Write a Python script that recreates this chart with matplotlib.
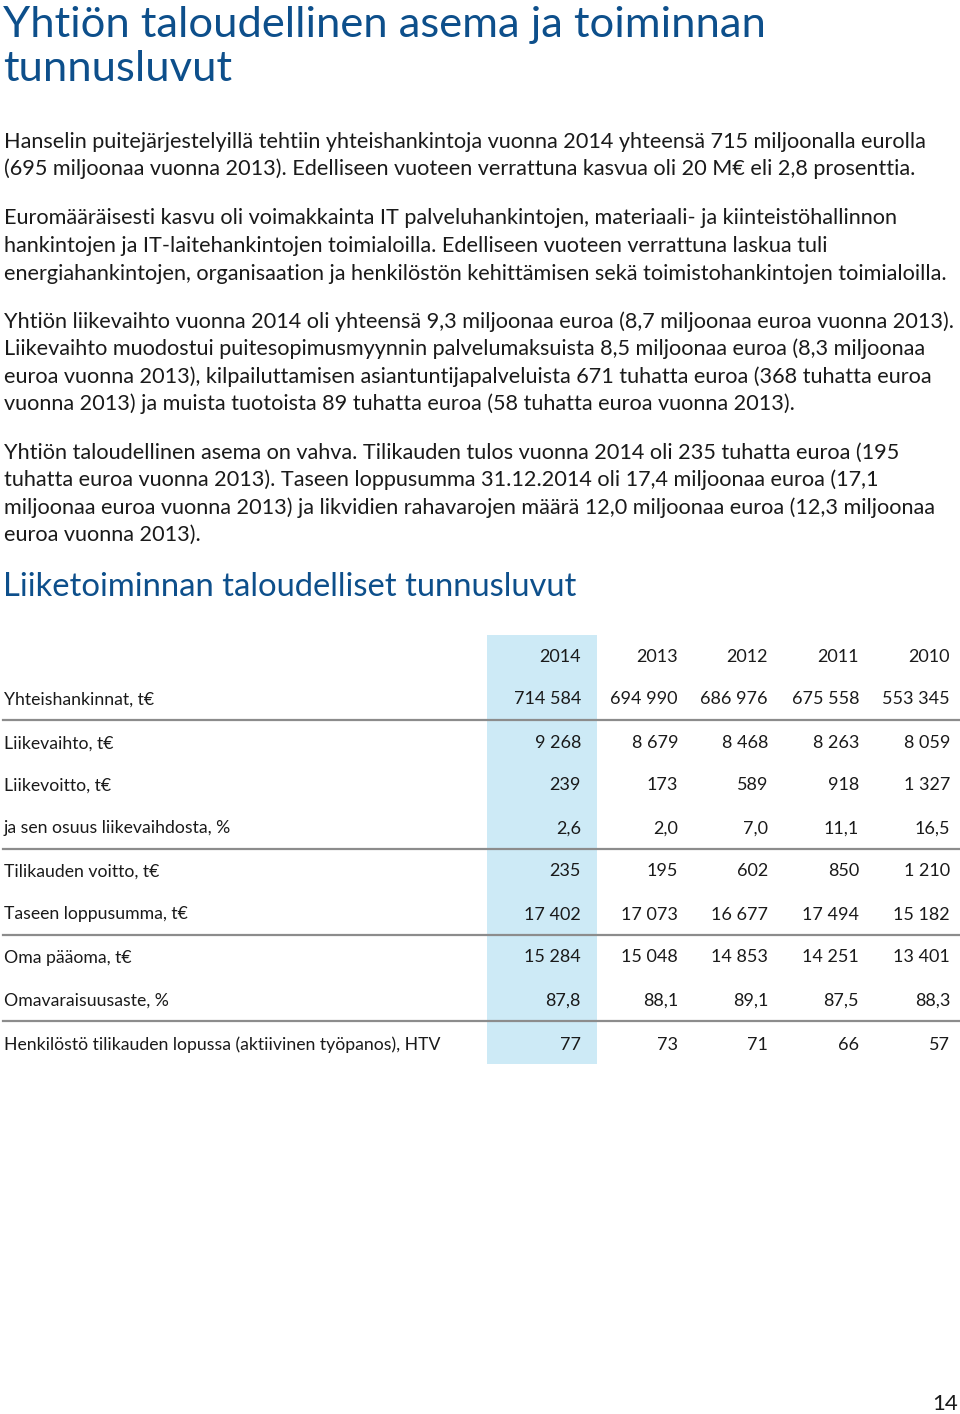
import matplotlib
matplotlib.use('Agg')
import matplotlib.pyplot as plt
from matplotlib.patches import Rectangle

plt.rcParams['font.family'] = ['Lato', 'DejaVu Sans']

TITLE_BLUE = '#0d4f8b'
TEXT = '#1a1a1a'
HILITE = '#cdeaf6'
RULE = '#8c8c8c'

title_lines = ["Yhtiön taloudellinen asema ja toiminnan", "tunnusluvut"]

paragraphs = [
    ["Hanselin puitejärjestelyillä tehtiin yhteishankintoja vuonna 2014 yhteensä 715 miljoonalla eurolla",
     "(695 miljoonaa vuonna 2013). Edelliseen vuoteen verrattuna kasvua oli 20 M€ eli 2,8 prosenttia."],
    ["Euromääräisesti kasvu oli voimakkainta IT palveluhankintojen, materiaali- ja kiinteistöhallinnon",
     "hankintojen ja IT-laitehankintojen toimialoilla. Edelliseen vuoteen verrattuna laskua tuli",
     "energiahankintojen, organisaation ja henkilöstön kehittämisen sekä toimistohankintojen toimialoilla."],
    ["Yhtiön liikevaihto vuonna 2014 oli yhteensä 9,3 miljoonaa euroa (8,7 miljoonaa euroa vuonna 2013).",
     "Liikevaihto muodostui puitesopimusmyynnin palvelumaksuista 8,5 miljoonaa euroa (8,3 miljoonaa",
     "euroa vuonna 2013), kilpailuttamisen asiantuntijapalveluista 671 tuhatta euroa (368 tuhatta euroa",
     "vuonna 2013) ja muista tuotoista 89 tuhatta euroa (58 tuhatta euroa vuonna 2013)."],
    ["Yhtiön taloudellinen asema on vahva. Tilikauden tulos vuonna 2014 oli 235 tuhatta euroa (195",
     "tuhatta euroa vuonna 2013). Taseen loppusumma 31.12.2014 oli 17,4 miljoonaa euroa (17,1",
     "miljoonaa euroa vuonna 2013) ja likvidien rahavarojen määrä 12,0 miljoonaa euroa (12,3 miljoonaa",
     "euroa vuonna 2013)."],
]

subtitle = "Liiketoiminnan taloudelliset tunnusluvut"

years = ["2014", "2013", "2012", "2011", "2010"]
row_labels = [
    "Yhteishankinnat, t€",
    "Liikevaihto, t€",
    "Liikevoitto, t€",
    "ja sen osuus liikevaihdosta, %",
    "Tilikauden voitto, t€",
    "Taseen loppusumma, t€",
    "Oma pääoma, t€",
    "Omavaraisuusaste, %",
    "Henkilöstö tilikauden lopussa (aktiivinen työpanos), HTV",
]
table_values = [
    ["714 584", "694 990", "686 976", "675 558", "553 345"],
    ["9 268", "8 679", "8 468", "8 263", "8 059"],
    ["239", "173", "589", "918", "1 327"],
    ["2,6", "2,0", "7,0", "11,1", "16,5"],
    ["235", "195", "602", "850", "1 210"],
    ["17 402", "17 073", "16 677", "17 494", "15 182"],
    ["15 284", "15 048", "14 853", "14 251", "13 401"],
    ["87,8", "88,1", "89,1", "87,5", "88,3"],
    ["77", "73", "71", "66", "57"],
]
# rows after which a rule is drawn
rule_after = [0, 3, 5, 7]
page_number = "14"

fig = plt.figure(figsize=(9.6, 14.14), dpi=100)
ax = fig.add_axes([0, 0, 1, 1])
ax.set_xlim(0, 960)
ax.set_ylim(1414, 0)
ax.axis('off')

# page title
for i, line in enumerate(title_lines):
    ax.text(3, 37 + i * 44, line, fontsize=31.3, color=TITLE_BLUE, va='baseline')

# body text
para_starts = [141, 218, 321, 452]
for y0, para in zip(para_starts, paragraphs):
    for j, line in enumerate(para):
        ax.text(4, y0 + 0.5 + j * 27.5, line, fontsize=15.6, color=TEXT, va='center')

ax.text(3, 587, subtitle, fontsize=23.6, color=TITLE_BLUE, va='center')

# table
col_right = [581, 678, 768, 859, 950]
header_y = 656
row_y = [698, 742, 784, 827, 870, 913, 956, 999, 1043]

ax.add_patch(Rectangle((487, 635), 110, 429, facecolor=HILITE, edgecolor='none', zorder=0))

for x, yr in zip(col_right, years):
    ax.text(x, header_y + 1.5, yr, fontsize=13, color=TEXT, ha='right', va='center')

for i, (lab, vals) in enumerate(zip(row_labels, table_values)):
    y = row_y[i] + 1.5
    ax.text(4, y, lab, fontsize=12.7, color=TEXT, va='center')
    for x, v in zip(col_right, vals):
        ax.text(x, y, v, fontsize=13, color=TEXT, ha='right', va='center')
    if i in rule_after:
        ymid = (row_y[i] + row_y[i + 1]) / 2
        ax.plot([3, 960], [ymid, ymid], color=RULE, lw=1.6, zorder=1)

ax.text(958, 1404, page_number, fontsize=16, color=TEXT, ha='right', va='center')

fig.savefig('out.png', dpi=100)
